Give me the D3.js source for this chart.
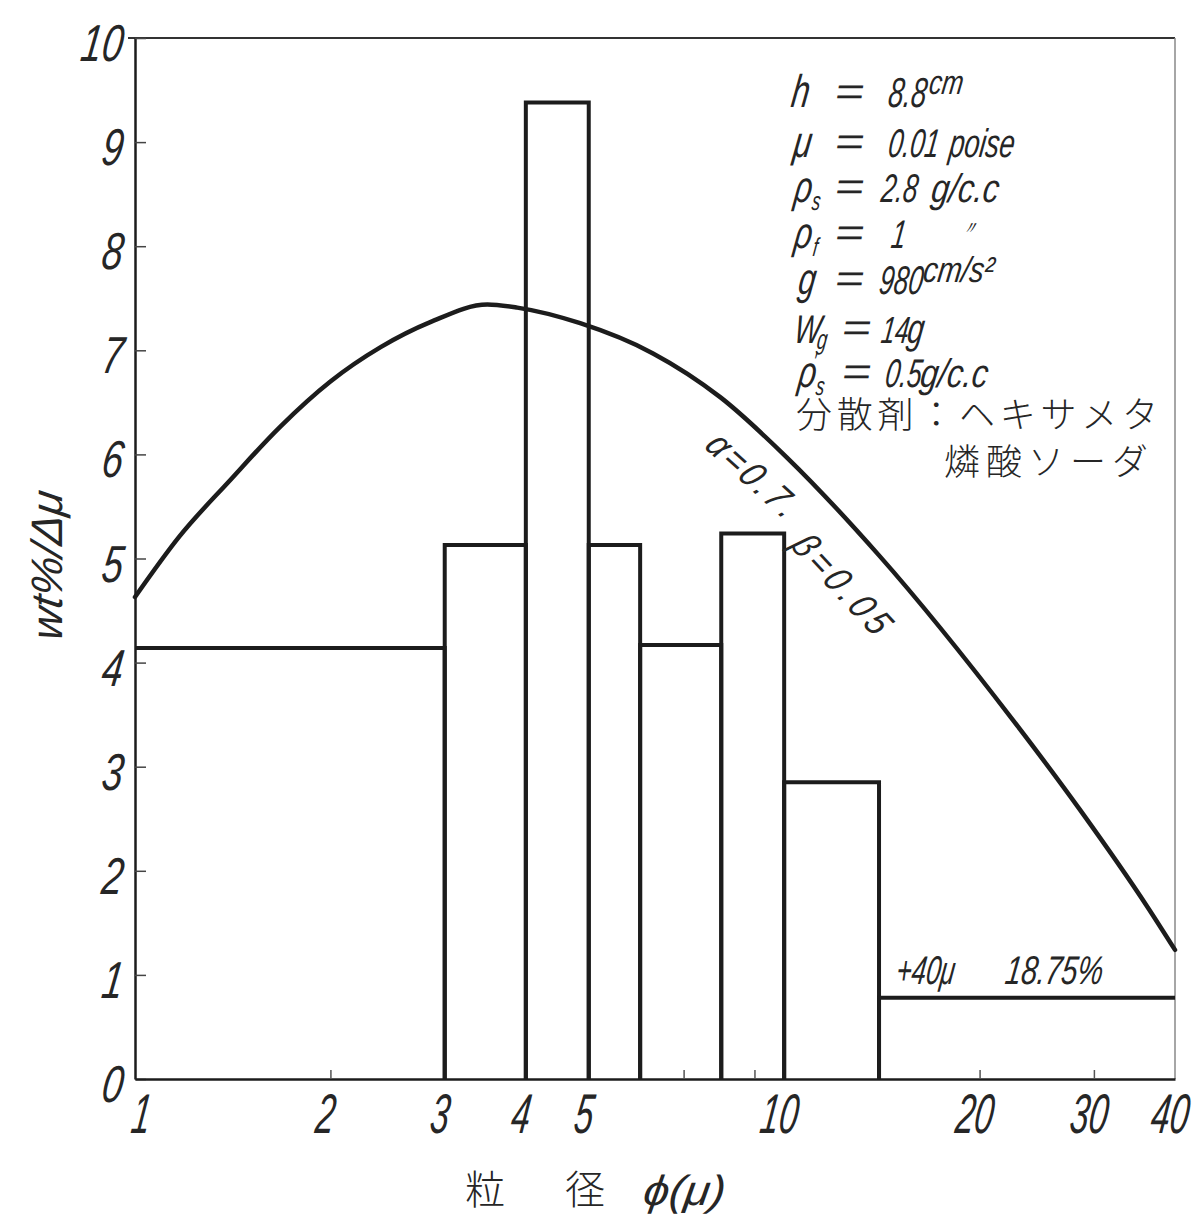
<!DOCTYPE html>
<html>
<head>
<meta charset="utf-8">
<script src="https://cdn.jsdelivr.net/npm/d3@7"></script>
<style>
  html, body { margin: 0; padding: 0; background: #fff; }
  svg { display: block; }
  .num { font-family: "Liberation Sans", Arial, "DejaVu Sans", sans-serif; font-style: italic; fill: #262626; }
  .jp { font-family: "Noto Sans CJK JP", "Noto Sans CJK SC", sans-serif; font-weight: 300; fill: #262626; }
</style>
</head>
<body>
<svg id="chart" width="1196" height="1220"></svg>
<script>
// ---------------- data ----------------
const binEdges = [1, 3, 4, 5, 6, 8, 10, 14, 40];                    // particle size class edges (μ)
const binValues = [4.14, 5.13, 9.38, 5.13, 4.17, 5.24, 2.85, 0.78]; // wt%/Δμ per class
const curveX = [1, 1.17, 1.4, 1.67, 2.0, 2.39, 2.85, 3.49, 3.88, 4.85, 6.28, 7.97, 10.1, 14.0, 22.5, 28.6, 36.3, 40];
const curveY = [4.63, 5.21, 5.75, 6.26, 6.70, 7.03, 7.27, 7.44, 7.41, 7.26, 6.97, 6.55, 5.97, 5.03, 3.45, 2.58, 1.65, 1.24];
const xTickLabels = [1, 2, 3, 4, 5, 10, 20, 30, 40];
const xMinorTicks = [2, 3, 4, 5, 6, 7, 8, 9, 20, 30];
const yTickValues = [0, 1, 2, 3, 4, 5, 6, 7, 8, 9, 10];
const yLabel = "wt%/Δμ";
const xTitleParts = ["粒", "径", "ϕ(μ)"];
const curveLabels = ["α=0.7.", "β=0.05"];
const coarseLabels = ["+40μ", "18.75%"];
const jpLines = ["分散剤：ヘキサメタ", "燐酸ソーダ"];

// ---------------- setup ----------------
const svg = d3.select("#chart");
const x = d3.scaleLog().domain([1, 40]).range([135, 1175]);
const y = d3.scaleLinear().domain([0, 10]).range([1079, 38]);
const ink = "#1c1c1c";

// condensed italic text helper (hand-lettered look)
function ntext(parent, str, px, py, fs, sx = 0.65, opts = {}) {
  const rot = opts.rot ? ` rotate(${opts.rot})` : "";
  const t = parent.append("text").attr("class", "num").attr("font-size", fs)
    .attr("transform", `translate(${px},${py})${rot} skewX(-8) scale(${sx},1)`)
    .text(str);
  if (opts.anchor) t.attr("text-anchor", opts.anchor);
  if (opts.len) t.attr("textLength", opts.len).attr("lengthAdjust", "spacing");
  return t;
}

// frame (top + right, thin)
svg.append("line").attr("x1", 128).attr("x2", x(40)).attr("y1", y(10)).attr("y2", y(10))
  .attr("stroke", "#333").attr("stroke-width", 2);
svg.append("line").attr("x1", x(40)).attr("x2", x(40)).attr("y1", y(10)).attr("y2", y(0))
  .attr("stroke", "#888").attr("stroke-width", 1.5);

// ---------------- axes ----------------
const gy = svg.append("g").attr("transform", `translate(${x(1)},0)`)
  .call(d3.axisLeft(y).tickValues(yTickValues).tickSizeInner(-11).tickSizeOuter(0).tickFormat(""));
gy.select(".domain").attr("stroke", ink).attr("stroke-width", 2.5);
gy.selectAll(".tick line").attr("stroke", "#444").attr("stroke-width", 1.5);

const gx = svg.append("g").attr("transform", `translate(0,${y(0)})`)
  .call(d3.axisBottom(x).tickValues(xMinorTicks).tickSizeInner(-9).tickSizeOuter(0).tickFormat(""));
gx.select(".domain").attr("stroke", ink).attr("stroke-width", 2.5);
gx.selectAll(".tick line").attr("stroke", "#555").attr("stroke-width", 1.5);

// tick labels placed with the scales
const gyl = svg.append("g");
yTickValues.forEach(v => ntext(gyl, String(v), 121, y(v) + 23, 52, 0.72, { anchor: "end" }));
const gxl = svg.append("g");
xTickLabels.forEach(v => ntext(gxl, String(v), v === 1 ? x(v) + 4 : x(v) - 7, 1133, 56, 0.6, { anchor: "middle" }));

// ---------------- histogram ----------------
const bins = binValues.map((v, i) => ({ x0: binEdges[i], x1: binEdges[i + 1], v, i }));
svg.append("g").selectAll("path").data(bins).join("path")
  .attr("d", d => {
    const p = d3.path();
    const last = d.i === bins.length - 1;
    if (d.i === 0) {
      p.moveTo(x(d.x0), y(d.v));
    } else {
      p.moveTo(x(d.x0), y(0));
      p.lineTo(x(d.x0), y(d.v));
    }
    p.lineTo(x(d.x1), y(d.v));
    if (!last) p.lineTo(x(d.x1), y(0));
    return p.toString();
  })
  .attr("fill", "none").attr("stroke", ink).attr("stroke-width", 4).attr("stroke-linejoin", "miter");

// ---------------- curve ----------------
const curvePts = curveX.map((cx, i) => [cx, curveY[i]]);
svg.append("path").datum(curvePts)
  .attr("d", d3.line().x(d => x(d[0])).y(d => y(d[1])).curve(d3.curveMonotoneX))
  .attr("fill", "none").attr("stroke", ink).attr("stroke-width", 4.5).attr("stroke-linecap", "round");

// curve labels (rotated along the curve)
const gc = svg.append("g");
ntext(gc, curveLabels[0], 703, 447, 38, 0.85, { rot: 42, len: 128 });
ntext(gc, curveLabels[1], 789, 546, 38, 0.85, { rot: 47, len: 146 });

// coarse fraction label
ntext(gc, coarseLabels[0], 895, 984, 40, 0.65);
ntext(gc, coarseLabels[1], 1004, 984, 40, 0.72);

// ---------------- parameter block ----------------
const pb = svg.append("g");
// [text, x, fontSize, baselineOffset, scaleX]
const rows = [
  { base: 107, eq: 833, parts: [["h", 790, 46, 0, 0.7], ["8.8", 887, 42, 0], ["cm", 928, 34, -13, 0.75]] },
  { base: 157, eq: 833, parts: [["μ", 792, 44, 0, 0.75], ["0.01", 887, 40, 0], ["poise", 948, 40, 0, 0.68]] },
  { base: 202, eq: 833, parts: [["ρ", 793, 44, 0, 0.7], ["s", 811, 26, 8], ["2.8", 880, 40, 0], ["g/c.c", 930, 40, 0, 0.8]] },
  { base: 248, eq: 833, parts: [["ρ", 793, 44, 0, 0.7], ["f", 812, 26, 8], ["1", 890, 40, 0], ["〃", 960, 18, -14, 1]] },
  { base: 294, eq: 833, parts: [["g", 797, 44, 0, 0.7], ["980", 878, 40, 0], ["cm/s²", 922, 36, -12, 0.8]] },
  { base: 343, eq: 840, parts: [["W", 793, 40, 0, 0.7], ["g", 816, 28, 6], ["14", 880, 38, 0], ["g", 906, 42, 0, 0.7]] },
  { base: 387, eq: 840, parts: [["ρ", 797, 44, 0, 0.7], ["′", 812, 24, -18, 0.7], ["s", 815, 26, 8], ["0.5", 884, 40, 0], ["g/c.c", 919, 40, 0, 0.8]] }
];
rows.forEach(r => {
  r.parts.forEach(([s, px, fs, dy, sx]) => ntext(pb, s, px, r.base + dy, fs, sx || 0.65));
  ntext(pb, "=", r.eq, r.base - 2, 40, 1.25);
});
pb.append("text").attr("class", "jp").attr("font-size", 36).attr("x", 796).attr("y", 428)
  .attr("textLength", 362).attr("lengthAdjust", "spacing").text(jpLines[0]);
pb.append("text").attr("class", "jp").attr("font-size", 36).attr("x", 944).attr("y", 475)
  .attr("textLength", 204).attr("lengthAdjust", "spacing").text(jpLines[1]);

// ---------------- axis titles ----------------
ntext(svg, yLabel, 62, 567, 44, 1.0, { rot: -90, anchor: "middle" });

svg.append("text").attr("class", "jp").attr("font-size", 40).attr("x", 485).attr("y", 1204)
  .attr("text-anchor", "middle").text(xTitleParts[0]);
svg.append("text").attr("class", "jp").attr("font-size", 40).attr("x", 585).attr("y", 1204)
  .attr("text-anchor", "middle").text(xTitleParts[1]);
ntext(svg, xTitleParts[2], 642, 1205, 42, 1.1);
</script>
</body>
</html>
